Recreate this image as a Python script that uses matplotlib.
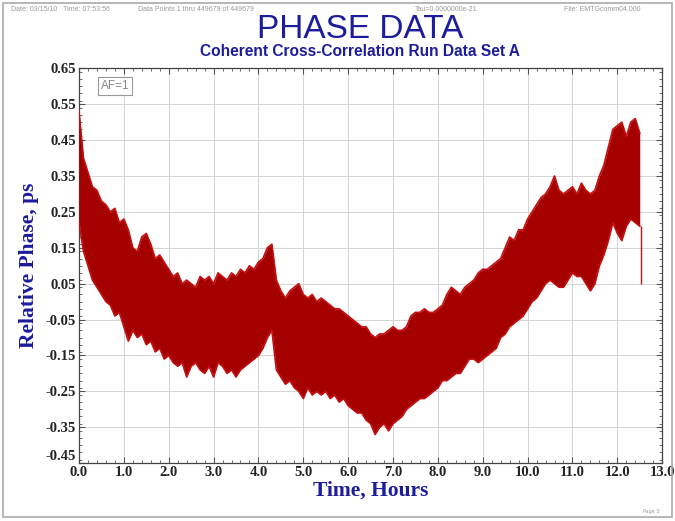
import numpy as np
import matplotlib.pyplot as plt
from matplotlib.patches import Rectangle
from matplotlib.ticker import MultipleLocator

# phase record, envelope of the noisy trace (hours, ps)
hours = [0.0, 0.1, 0.2, 0.3, 0.4, 0.5, 0.6, 0.7, 0.8, 0.9,
         1.0, 1.1, 1.2, 1.3, 1.4, 1.5, 1.6, 1.7, 1.8, 1.9,
         2.0, 2.1, 2.2, 2.3, 2.4, 2.5, 2.6, 2.7, 2.8, 2.9,
         3.0, 3.1, 3.2, 3.3, 3.4, 3.5, 3.6, 3.7, 3.8, 3.9,
         4.0, 4.1, 4.2, 4.3, 4.4, 4.5, 4.6, 4.7, 4.8, 4.9,
         5.0, 5.1, 5.2, 5.3, 5.4, 5.5, 5.6, 5.7, 5.8, 5.9,
         6.0, 6.1, 6.2, 6.3, 6.4, 6.5, 6.6, 6.7, 6.8, 6.9,
         7.0, 7.1, 7.2, 7.3, 7.4, 7.5, 7.6, 7.7, 7.8, 7.9,
         8.0, 8.1, 8.2, 8.3, 8.4, 8.5, 8.6, 8.7, 8.8, 8.9,
         9.0, 9.1, 9.2, 9.3, 9.4, 9.5, 9.6, 9.7, 9.8, 9.9,
         10.0, 10.1, 10.2, 10.3, 10.4, 10.5, 10.6, 10.7, 10.8, 10.9,
         11.0, 11.1, 11.2, 11.3, 11.4, 11.5, 11.6, 11.7, 11.8, 11.9,
         12.0, 12.1, 12.2, 12.3, 12.4, 12.5]

phase_hi = [0.53, 0.40, 0.36, 0.32, 0.31, 0.28, 0.27, 0.25, 0.26, 0.22,
            0.23, 0.20, 0.15, 0.14, 0.18, 0.19, 0.16, 0.12, 0.13, 0.11,
            0.09, 0.07, 0.08, 0.05, 0.06, 0.05, 0.04, 0.07, 0.06, 0.07,
            0.05, 0.08, 0.07, 0.06, 0.08, 0.07, 0.09, 0.08, 0.10, 0.09,
            0.11, 0.12, 0.15, 0.16, 0.06, 0.03, 0.01, 0.03, 0.04, 0.05,
            0.02, 0.01, 0.02, 0.00, 0.01, 0.00, -0.01, -0.02, -0.02, -0.03,
            -0.04, -0.05, -0.06, -0.07, -0.07, -0.09, -0.10, -0.09, -0.09, -0.08,
            -0.07, -0.08, -0.08, -0.07, -0.04, -0.03, -0.03, -0.02, -0.03, -0.03,
            -0.02, -0.01, 0.02, 0.04, 0.03, 0.02, 0.04, 0.05, 0.06, 0.08,
            0.09, 0.09, 0.10, 0.11, 0.12, 0.15, 0.18, 0.17, 0.20, 0.20,
            0.23, 0.25, 0.27, 0.29, 0.30, 0.32, 0.35, 0.31, 0.30, 0.31,
            0.32, 0.30, 0.33, 0.31, 0.30, 0.31, 0.35, 0.38, 0.43, 0.48,
            0.49, 0.50, 0.46, 0.50, 0.51, 0.47]

phase_lo = [0.22, 0.14, 0.10, 0.06, 0.04, 0.02, 0.00, -0.01, -0.04, -0.03,
            -0.07, -0.11, -0.08, -0.10, -0.09, -0.12, -0.11, -0.14, -0.13, -0.16,
            -0.15, -0.17, -0.18, -0.17, -0.21, -0.18, -0.17, -0.19, -0.20, -0.18,
            -0.21, -0.17, -0.18, -0.20, -0.19, -0.21, -0.19, -0.18, -0.17, -0.16,
            -0.15, -0.13, -0.10, -0.08, -0.19, -0.21, -0.23, -0.22, -0.24, -0.25,
            -0.27, -0.24, -0.26, -0.25, -0.26, -0.25, -0.27, -0.26, -0.28, -0.27,
            -0.29, -0.30, -0.31, -0.31, -0.33, -0.34, -0.37, -0.35, -0.34, -0.36,
            -0.34, -0.33, -0.32, -0.30, -0.29, -0.28, -0.27, -0.27, -0.26, -0.25,
            -0.24, -0.22, -0.22, -0.21, -0.20, -0.20, -0.18, -0.16, -0.16, -0.17,
            -0.16, -0.15, -0.14, -0.13, -0.10, -0.09, -0.07, -0.06, -0.05, -0.04,
            -0.02, 0.00, 0.01, 0.03, 0.05, 0.06, 0.05, 0.04, 0.04, 0.06,
            0.08, 0.07, 0.07, 0.05, 0.03, 0.05, 0.10, 0.13, 0.17, 0.22,
            0.19, 0.17, 0.21, 0.23, 0.22, 0.21]

# single drop-out at the end of the run
spike_t = 12.53
spike_top = 0.21
spike_bottom = 0.05

xticks = np.arange(0, 13.01, 1.0)
yticks = np.arange(-0.45, 0.66, 0.1)

blue = '#1c1c9c'
red_dark = '#a50000'
red_edge = '#c41010'

fig = plt.figure(figsize=(6.75, 5.21), dpi=100)
ax = fig.add_axes([0.117, 0.111, 0.864, 0.758])

ax.fill_between(hours, phase_lo, phase_hi, color=red_dark, linewidth=0, zorder=3)
ax.plot(hours, phase_hi, color=red_edge, linewidth=1.2, zorder=3)
ax.plot(hours, phase_lo, color=red_edge, linewidth=1.2, zorder=3)
ax.vlines(spike_t, spike_bottom, spike_top, color=red_edge, linewidth=1.0, zorder=3)

ax.set_xlim(0, 13)
ax.set_ylim(-0.45, 0.65)
ax.set_xticks(xticks)
ax.set_yticks(yticks)
ax.set_xticklabels(['%.1f' % v for v in xticks])
ax.set_yticklabels(['%.2f' % v if abs(v) > 1e-9 else '0.05' for v in yticks])
ax.xaxis.set_minor_locator(MultipleLocator(0.2))
ax.yaxis.set_minor_locator(MultipleLocator(0.02))
ax.tick_params(which='both', direction='in', top=True, right=True, color='#555555')
ax.tick_params(which='major', length=4, width=0.8, pad=2)
ax.tick_params(which='minor', length=2, width=0.6)
for lab in ax.get_xticklabels() + ax.get_yticklabels():
    lab.set_fontfamily('Liberation Serif')
    lab.set_fontweight('bold')
    lab.set_fontsize(10.5)
    lab.set_color('#222222')
# bottom y label sits a little higher so it clears the first x label
ax.get_yticklabels()[0].set_va('bottom')

ax.grid(True, which='major', color='#d4d4d4', linewidth=0.7, zorder=0)
ax.set_axisbelow(True)
for s in ax.spines.values():
    s.set_color('#444444')
    s.set_linewidth(0.9)

ax.set_xlabel('Time, Hours', family='Liberation Serif', fontweight='bold',
              fontsize=15.5, color=blue, labelpad=1)
ax.set_ylabel('Relative Phase, ps', family='Liberation Serif', fontweight='bold',
              fontsize=15.5, color=blue, labelpad=5)

ax.text(0.037, 0.955, 'AF=1', transform=ax.transAxes, fontsize=8.5, color='#888888',
        va='center', ha='left', family='Liberation Sans',
        bbox=dict(boxstyle='square,pad=0.25', fc='white', ec='#999999', lw=0.8))

# headings
fig.text(0.533, 0.943, 'PHASE DATA', ha='center', va='center', fontsize=24,
         color=blue, family='Liberation Sans')
fig.text(0.533, 0.901, 'Coherent Cross-Correlation Run Data Set A', ha='center',
         va='center', fontsize=11.2, fontweight='bold', color=blue, family='Liberation Sans')

# run info line
hdr = dict(fontsize=5, color='#999999', va='center', family='Liberation Sans')
fig.text(0.016, 0.982, 'Date: 03/15/10   Time: 07:53:56', **hdr)
fig.text(0.205, 0.982, 'Data Points 1 thru 449679 of 449679', **hdr)
fig.text(0.615, 0.982, 'Tau=0.0000000e-21', **hdr)
fig.text(0.835, 0.982, 'File: EMTGcomm04.000', **hdr)
fig.text(0.965, 0.018, 'Page 3', fontsize=3.5, color='#999999', ha='center', va='center')

fig.patches.append(Rectangle((0.005, 0.007), 0.99, 0.988, transform=fig.transFigure,
                             fill=False, ec='#aaaaaa', lw=1.2))

fig.savefig('out.png', dpi=100)
